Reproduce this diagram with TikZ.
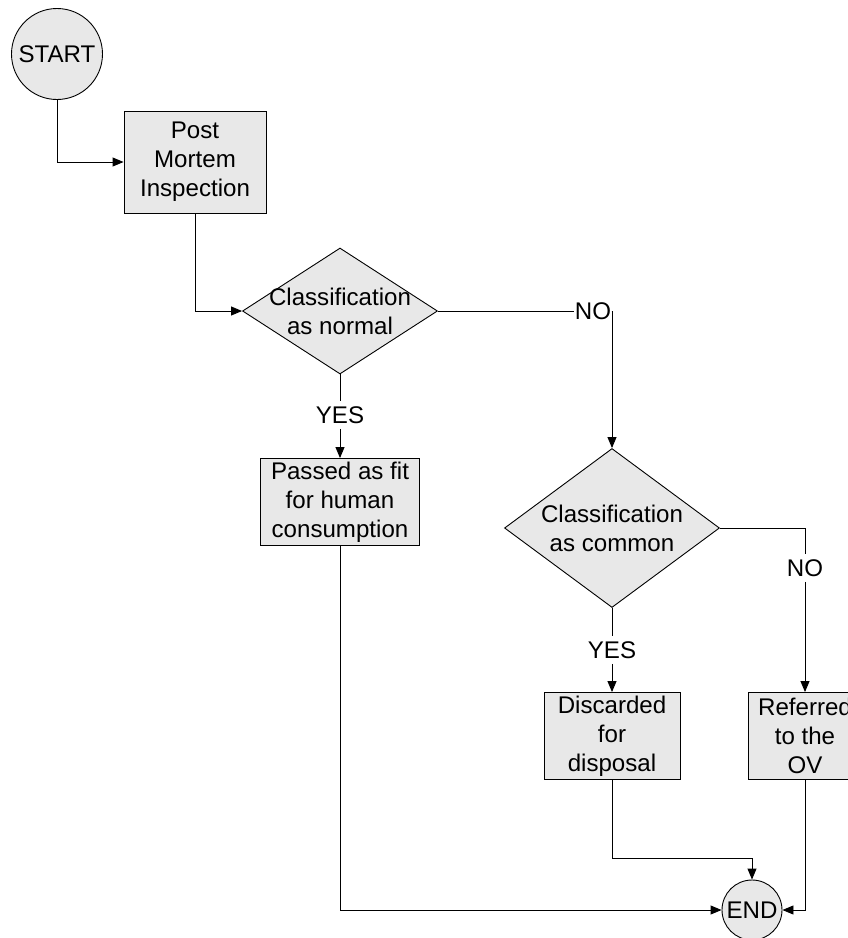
\documentclass[tikz,border=0pt]{standalone}
\usepackage{fontspec}
\setmainfont{Liberation Sans}
\usepackage{tikz}
\usetikzlibrary{shapes,arrows.meta,positioning}

\begin{document}
\begin{tikzpicture}[x=1pt, y=-1pt, line width=0.9pt,
      every node/.style = {font=\fontsize{24.1}{28.8}\selectfont},
      flowbox/.style = {draw, fill=gray!18, align=center, inner sep=0pt, minimum height=87},
      decision/.style = {draw, diamond, fill=gray!18, inner sep=0pt},
      term/.style = {draw, circle, fill=gray!18, inner sep=0pt},
      answer/.style = {inner xsep=0pt, inner ysep=5pt},
      arr/.style = {-{Triangle[length=11pt, width=9pt]}}
    ]
    \useasboundingbox (0,0) rectangle (848,938);

    \node[term, minimum size=91] (start) at (57,54) {START};
    \node[flowbox, minimum width=142, minimum height=102] (pm) at (195,162) {Post\\Mortem\\Inspection};
    \node[decision, minimum width=195, minimum height=126,
      label={[align=center]center:Classification\\as normal}] (normal) at (340,311) {};
    \node[answer] (yes1) at (340,415) {YES};
    \node[answer] (no1) at (593,311) {NO};
    \node[flowbox, minimum width=159] (pass) at (340,502) {Passed as fit\\for human\\consumption};
    \node[decision, minimum width=215, minimum height=159,
      label={[align=center]center:Classification\\as common}] (common) at (612,528) {};
    \node[answer] (yes2) at (612,650) {YES};
    \node[answer] (no2) at (805,568) {NO};
    \node[flowbox, minimum width=136] (disc) at (612,736) {Discarded\\for\\disposal};
    \node[flowbox, minimum width=114] (ref) at (805,736) {Referred\\to the\\OV};
    \node[term, minimum size=60] (end) at (752,910) {END};

    \draw[arr] (start) |- (pm);
    \draw[arr] (pm) |- (normal);
    \draw[arr] (normal) -- (yes1) -- (pass);
    \draw[arr] (normal) -- (no1) -| (common);
    \draw[arr] (common) -- (yes2) -- (disc);
    \draw[arr] (common) -| (no2) -- (ref);
    \draw[arr] (pass) |- (end);
    \draw[arr] (disc.south) -- ++(0,78) -| (end);
    \draw[arr] (ref) |- (end);
  \end{tikzpicture}
\end{document}
